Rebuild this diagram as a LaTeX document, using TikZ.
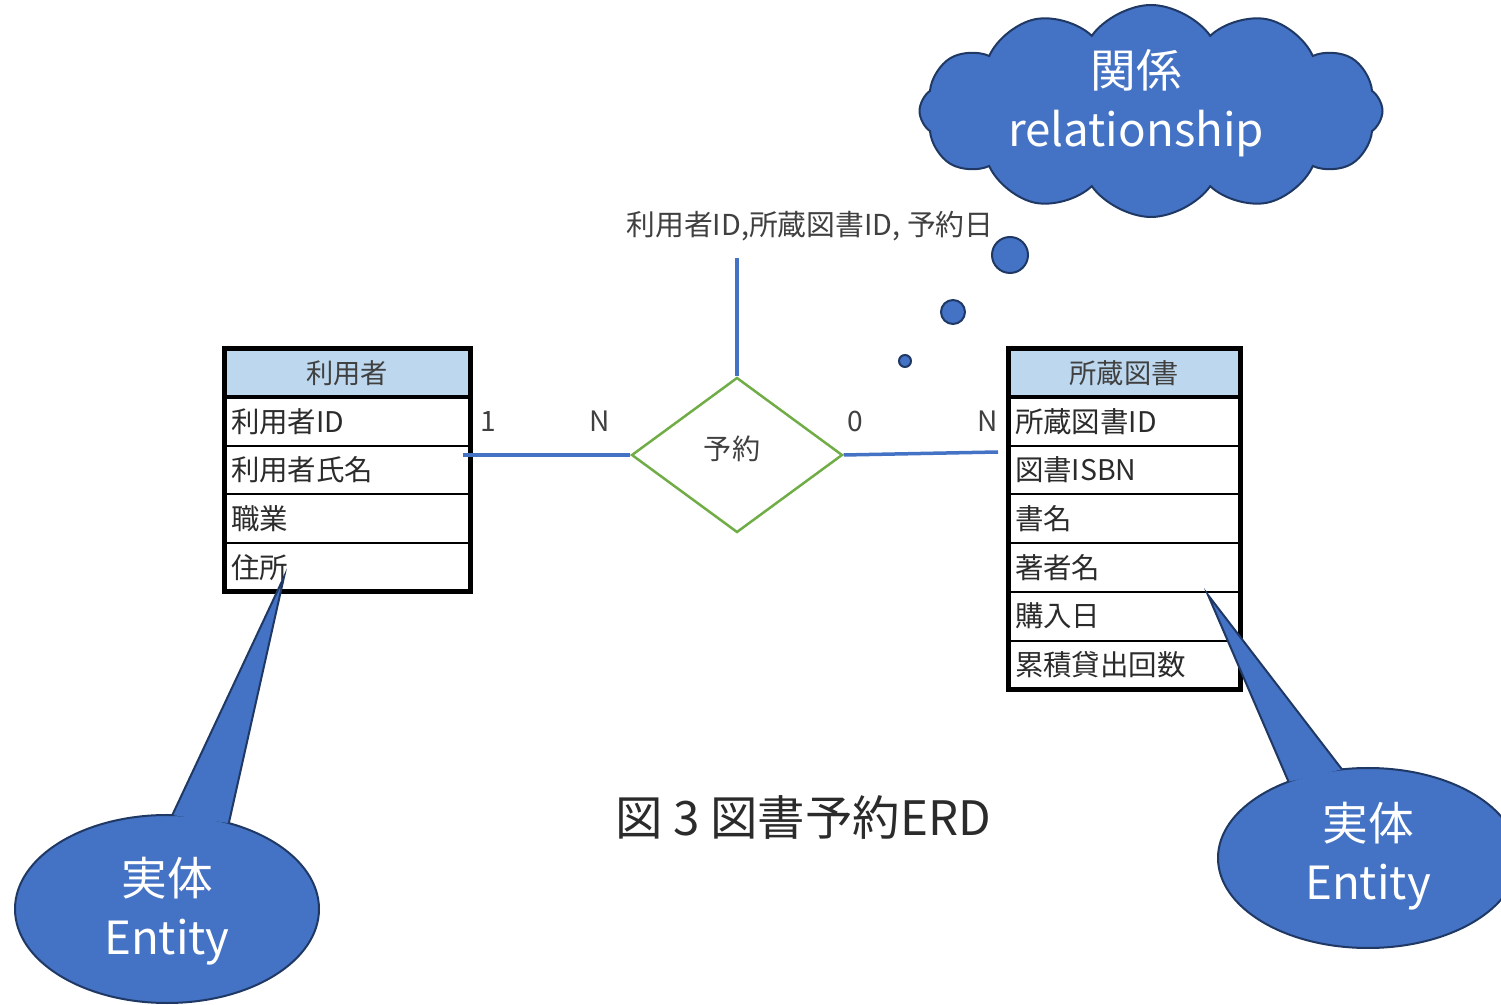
\documentclass[tikz,border=0pt]{standalone}
\usepackage{fontspec}
\setmainfont{Noto Sans CJK JP}
\usetikzlibrary{shapes.geometric,shapes.symbols,calc}
\definecolor{ofblue}{HTML}{4472C4}
\definecolor{ofdark}{HTML}{1F3864}
\definecolor{hdrblue}{HTML}{BDD7EE}
\definecolor{ofgreen}{HTML}{70AD47}
\definecolor{txtgray}{HTML}{404040}
\definecolor{txtdark}{HTML}{2B2B2B}
\newcommand\myfs[2]{\fontsize{#1}{#2}\selectfont}
\tikzset{
  tabcell/.style={draw=black, line width=0.4mm, inner xsep=1.4mm, inner ysep=0pt, outer sep=0pt,
    minimum height=9.74mm, align=left, text=txtdark, font=\myfs{16.2pt}{19pt}, anchor=north},
  lrow/.style={tabcell, text width=46.4mm},
  rrow/.style={tabcell, text width=43.6mm},
  lhdr/.style={lrow, fill=hdrblue, align=center, minimum height=9.6mm, text=txtgray, font=\myfs{15.5pt}{18pt}},
  rhdr/.style={rrow, fill=hdrblue, align=center, minimum height=9.6mm, text=txtgray, font=\myfs{15.5pt}{18pt}},
  tabborder/.style={draw=black, line width=1mm},
  hdrline/.style={draw=black, line width=0.8mm},
  conn/.style={draw=ofblue, line width=0.7mm},
  card/.style={text=txtgray, font=\myfs{16pt}{19pt}, inner sep=0pt},
  blueline/.style={draw=ofdark, line width=0.4mm},
  bubble/.style={circle, fill=ofblue, blueline, inner sep=0pt},
  bigtext/.style={text=white, font=\myfs{26pt}{33.5pt}, align=center, inner sep=0pt},
}
\begin{document}
\begin{tikzpicture}[x=0.2mm,y=-0.2mm]
\useasboundingbox (0,0) rectangle (1501,1005);
\clip (0,0) rectangle (1501,1005);

% relationship
\node[diamond, draw=ofgreen, line width=0.5mm, minimum width=42.2mm, minimum height=31mm,
      inner sep=0pt] (rel) at (737,455) {};
\node[card] (reltxt) at (732,449) {予約};
\coordinate (vtop) at (737,258);
\draw[conn] (vtop) -- (rel.north);
\node[card, font=\myfs{16.4pt}{19pt}] (attr) at (810,226) {利用者ID,所蔵図書ID, 予約日};

% left table
\node[lhdr] (lh) at (347,349) {利用者};
\node[lrow] (l1) at (lh.south) {利用者ID};
\node[lrow] (l2) at (l1.south) {利用者氏名};
\node[lrow] (l3) at (l2.south) {職業};
\node[lrow] (l4) at (l3.south) {住所};
\draw[tabborder] (lh.north west) rectangle (l4.south east);
\draw[hdrline] (lh.south west) -- (lh.south east);

% right table
\node[rhdr] (rh) at (1124,349) {所蔵図書};
\node[rrow] (r1) at (rh.south) {所蔵図書ID};
\node[rrow] (r2) at (r1.south) {図書ISBN};
\node[rrow] (r3) at (r2.south) {書名};
\node[rrow] (r4) at (r3.south) {著者名};
\node[rrow] (r5) at (r4.south) {購入日};
\node[rrow] (r6) at (r5.south) {累積貸出回数};
\draw[tabborder] (rh.north west) rectangle (r6.south east);
\draw[hdrline] (rh.south west) -- (rh.south east);

% relationship lines
\coordinate (lend) at (463,455);
\coordinate (rend) at (998,452);
\draw[conn] (lend) -- (rel.west);
\draw[conn] (rel.east) -- (rend);

\node[card] (c1) at (488,421) {1};
\node[card] (c2) at (600,421) {N};
\node[card] (c3) at (855,421) {0};
\node[card] (c4) at (988,421) {N};

% caption
\node[text=txtdark, font=\myfs{27pt}{32pt}, inner sep=0pt] (cap) at (803,817) {図 3 図書予約ERD};

% cloud with thought bubbles
\node[cloud, cloud puffs=12, cloud puff arc=110, aspect=2.2, fill=ofblue, blueline, minimum width=92.6mm,
      minimum height=42.4mm, inner sep=0pt] (cld) at (1151,111) {};
\node[bigtext] (cldt) at (1136,103) {関係\\relationship};
\node[bubble, minimum size=7.2mm] (b1) at (1010,255) {};
\node[bubble, minimum size=4.8mm] (b2) at (953,312) {};
\node[bubble, minimum size=2.4mm] (b3) at (905,361) {};

% left callout
\node[ellipse, fill=ofblue, blueline, minimum width=60.8mm, minimum height=37.6mm, inner sep=0pt] (le) at (167,909) {};
\coordinate (ltip) at (284,577);
\coordinate (lb1) at ($(le.center)+(-88:152 and 94)$);
\coordinate (lb2) at ($(le.center)+(-66:152 and 94)$);
\fill[ofblue] (lb1) -- (ltip) -- (lb2) -- cycle;
\draw[blueline, line join=miter] (lb1) -- (ltip) -- (lb2);
\node[bigtext] (lt) at (167,911) {実体\\Entity};

% right callout
\node[ellipse, fill=ofblue, blueline, minimum width=60mm, minimum height=36mm, inner sep=0pt] (re) at (1368,858) {};
\coordinate (rtip) at (1208,595);
\coordinate (rb1) at ($(re.center)+(-122:150 and 90)$);
\coordinate (rb2) at ($(re.center)+(-100:150 and 90)$);
\fill[ofblue] (rb1) -- (rtip) -- (rb2) -- cycle;
\draw[blueline, line join=miter] (rb1) -- (rtip) -- (rb2);
\node[bigtext] (rt) at (1368,856) {実体\\Entity};
\end{tikzpicture}
\end{document}
